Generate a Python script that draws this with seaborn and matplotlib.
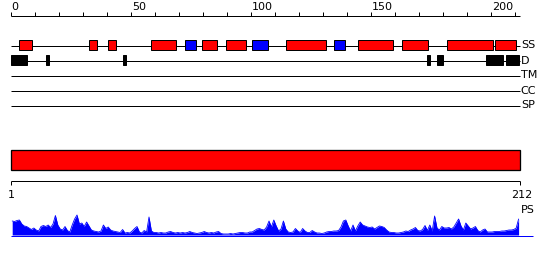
import numpy as np
import pandas as pd
import matplotlib
matplotlib.use("Agg")
import matplotlib.pyplot as plt
import seaborn as sns

# ---------------- data ----------------
seq_len = 212
ruler_ticks = list(range(0, 211, 10))
ruler_labels = [0, 50, 100, 150, 200]
track_names = ["SS", "D", "TM", "CC", "SP"]

helix_start = [3.5, 32.6, 40.5, 58.5, 79.7, 89.7, 114.7, 144.7, 163.0, 181.8, 201.8]
helix_end = [8.6, 35.7, 43.6, 68.6, 85.7, 97.8, 131.1, 159.0, 173.9, 201.0, 210.3]
strand_start = [72.6, 100.5, 134.7]
strand_end = [77.0, 107.0, 139.0]
disorder_start = [0.0, 14.6, 46.7, 173.4, 177.7, 197.9, 206.1]
disorder_end = [6.5, 15.8, 47.9, 174.4, 179.9, 205.2, 211.8]
domain_start = [0.0]
domain_end = [212.0]
domain_labels = ["1", "212"]
profile_label = "PS"
profile = [
    14, 13.5, 14.5, 15, 11, 9, 8.5, 7, 5.5, 7,
    5, 4, 8.5, 9.5, 8.5, 10, 7.5, 11, 19.5, 10,
    6, 5, 8.5, 4.5, 3, 10, 16, 20, 11, 12,
    8.5, 13, 9, 5, 4, 3.5, 3, 4, 10, 6.5,
    8, 5, 4, 3.5, 3, 2.5, 5.5, 2, 2.5, 2,
    4, 6.5, 8.5, 3, 2, 4.5, 3, 18, 4, 2.5,
    2.5, 2, 2.5, 2, 2, 3, 3.5, 2.5, 2, 2.5,
    2, 2.5, 2, 2.5, 3.5, 2.5, 2, 1.5, 2, 2.5,
    3.5, 2.5, 2, 2.5, 2, 3, 3.5, 1.5, 1, 1,
    1, 1.5, 1, 1.5, 2, 2.5, 2.5, 2, 2, 3,
    3, 4.5, 6, 6.5, 5.5, 5, 8, 14, 8, 15,
    9, 4, 6, 14, 6, 3, 2.5, 3, 6.5, 4,
    2.5, 6.5, 4, 2.5, 2.5, 4.5, 3, 2, 2, 1.5,
    2, 3, 3.5, 3.5, 4, 4, 4.5, 8, 14, 15,
    9, 4, 10, 4, 9, 13, 10, 9, 8, 7.5,
    8, 6, 7.5, 9, 8.5, 7.5, 5, 3, 2.5, 2.5,
    2, 2, 2.5, 3, 4, 3.5, 5, 6, 7.5, 4.5,
    4, 5.5, 9.5, 4.5, 10, 4, 19, 7, 5, 8.5,
    7, 7, 7.5, 6, 8, 12, 16, 9, 5, 12,
    9, 6, 7, 8.5, 4.5, 3, 5, 6, 3, 3,
    3, 3.5, 3.5, 3.5, 4, 4, 4.5, 5, 5, 5.5,
    7, 16,
]

# ---------------- style ----------------
sns.set_theme(style="white")
plt.rcParams["font.family"] = ["DejaVu Sans"]
FS = 8
LW = 0.72  # 1 px
W, H = 550, 260
X0, SCALE = 11, 2.4
xlim = (-X0 / SCALE, (W - X0) / SCALE)

fig = plt.figure(figsize=(W / 100, H / 100), dpi=100)
fig.patch.set_facecolor("white")
ax = fig.add_axes([0, 0, 1, 1])
ax.set_xlim(*xlim)
ax.set_ylim(H, 0)
ax.axis("off")

# ruler
ax.hlines(15.5, 0, seq_len, color="black", lw=LW)
ax.vlines(ruler_ticks, 11.5, 15.5, color="black", lw=LW)
for t in ruler_labels:
    ax.text(t + 0.3, 10.5, str(t), ha="left", va="baseline", fontsize=FS, color="black")

# track lines
track_y = [45.5, 60.5, 75.5, 90.5, 105.5]
for name, y in zip(track_names, track_y):
    ax.hlines(y, 0, seq_len, color="black", lw=LW, zorder=1)
    ax.text(seq_len + 0.4, y, name, ha="left", va="center", fontsize=FS, color="black")

# secondary structure
ax.barh(45.3, np.array(helix_end) - np.array(helix_start), left=helix_start,
        height=10, color="#ff0000", edgecolor="black", lw=LW, zorder=2)
ax.barh(45.3, np.array(strand_end) - np.array(strand_start), left=strand_start,
        height=10, color="#0000ff", edgecolor="black", lw=LW, zorder=2)
# disorder
ax.barh(60.3, np.array(disorder_end) - np.array(disorder_start), left=disorder_start,
        height=10, color="black", edgecolor="black", lw=LW, zorder=2)

# domain bar
ax.barh(160.3, np.array(domain_end) - np.array(domain_start), left=domain_start,
        height=20, color="#ff0000", edgecolor="black", lw=LW * 1.3, zorder=2)
ax.hlines(180.5, 0, seq_len, color="black", lw=LW)
ax.vlines([0, seq_len], 180.5, 184.5, color="black", lw=LW)
ax.text(0, 195, domain_labels[0], ha="center", va="center", fontsize=FS, color="black")
ax.text(seq_len + 1, 195, domain_labels[1], ha="center", va="center", fontsize=FS, color="black")
ax.text(seq_len + 0.5, 210, profile_label, ha="left", va="center", fontsize=FS, color="black")

# profile
axp = fig.add_axes([0, 0, 1, 1])
axp.patch.set_alpha(0)
axp.set_xlim(*xlim)
axp.set_ylim(-25, 235)
axp.axis("off")
df = pd.DataFrame({"pos": np.arange(1, seq_len + 1) - 0.5, "score": profile})
sns.lineplot(data=df, x="pos", y="score", ax=axp, color="#0000ff", lw=0.6, legend=False)
axp.fill_between(df["pos"], df["score"], 0, color="#0000ff", lw=0)
axp.hlines(-0.5, 0, (533 - X0) / SCALE, color="#0000ff", lw=LW)

fig.savefig("out.png", dpi=100, facecolor="white")
